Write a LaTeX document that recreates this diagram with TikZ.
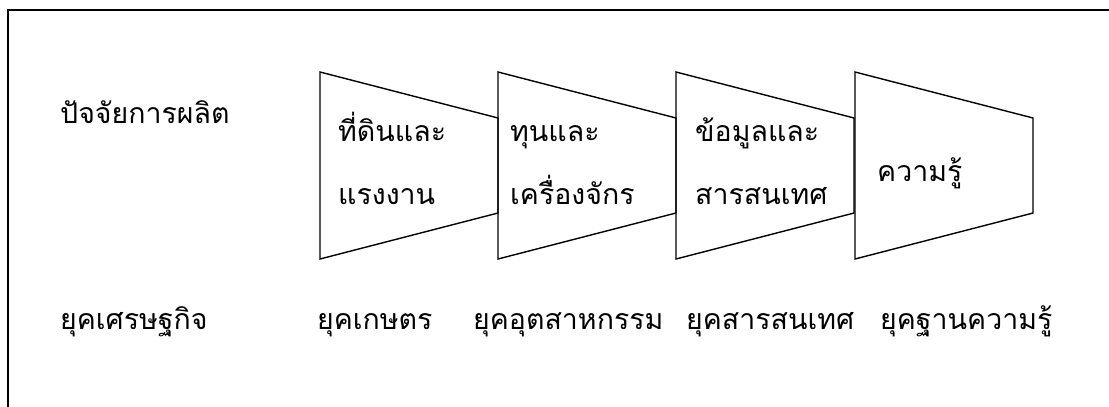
\documentclass[tikz,border=0pt]{standalone}
\usepackage{fontspec}
\newfontfamily\thaifont[Script=Thai]{Loma}
\begin{document}
\begin{tikzpicture}[x=1pt,y=-1pt,
  lbl/.style={anchor=base west,inner sep=0pt,font=\thaifont\fontsize{28.5}{33}\selectfont},
  trap/.style={draw,line width=1.4pt,line join=miter},
  frame/.style={draw,line width=1.4pt}]
\useasboundingbox (0,0) rectangle (1109,407);
\draw[frame] (8,407) -- (8,10) -- (1109,10);
% trapezoids
\foreach \x in {320,498,676,855}{
  \draw[trap] (\x,72) -- (\x+178,118) -- (\x+178,213) -- (\x,259) -- cycle;
}
\node[lbl] (factor) at (60,123) {ปัจจัยการผลิต};
\node[lbl] (era) at (60,329) {ยุคเศรษฐกิจ};
\node[lbl] (t1a) at (338,141) {ที่ดินและ};
\node[lbl] (t1b) at (338,204) {แรงงาน};
\node[lbl] (t2a) at (510,141) {ทุนและ};
\node[lbl] (t2b) at (510,204) {เครื่องจักร};
\node[lbl] (t3a) at (695,141) {ข้อมูลและ};
\node[lbl] (t3b) at (695,204) {สารสนเทศ};
\node[lbl] (t4) at (877,181) {ความรู้};
\node[lbl] (e1) at (317,329) {ยุคเกษตร};
\node[lbl] (e2) at (473,329) {ยุคอุตสาหกรรม};
\node[lbl] (e3) at (686,329) {ยุคสารสนเทศ};
\node[lbl] (e4) at (880,329) {ยุคฐานความรู้};
\end{tikzpicture}
\end{document}
